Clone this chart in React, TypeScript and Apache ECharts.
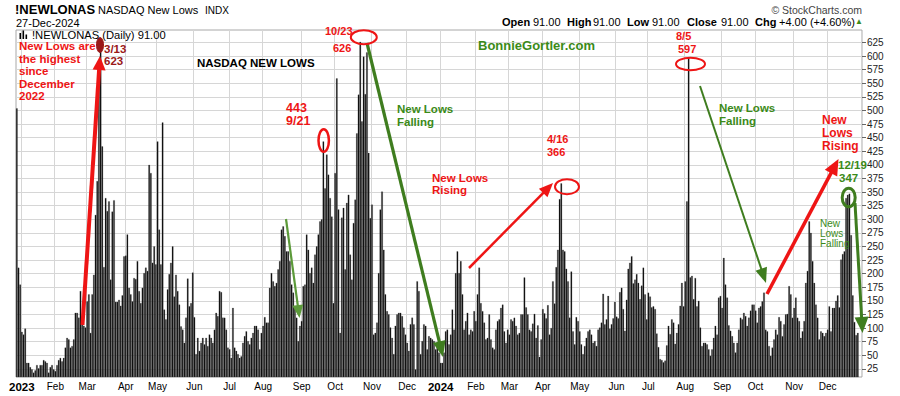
import React, { useEffect, useRef } from 'react';
import * as echarts from 'echarts';

// ---- daily NASDAQ new lows, by month ----
const dec22 = [504, 211, 180];
const jan23 = [93, 88, 99, 36, 36, 28, 24, 18, 22, 32, 26, 32, 32, 41, 39, 36, 18, 28, 32, 24];
const feb23 = [21, 32, 41, 45, 39, 45, 64, 82, 79, 64, 67, 79, 128, 128, 119, 168, 119, 104, 101];
const mar23 = [149, 162, 91, 162, 198, 308, 370, 547, 623, 434, 212, 339, 315, 333, 189, 314, 335, 148, 148, 152, 141, 160, 232];
const apr23 = [233, 272, 174, 162, 149, 192, 190, 223, 168, 146, 174, 201, 211, 205, 400, 385, 220, 250, 217];
const may23 = [443, 281, 217, 478, 134, 116, 171, 199, 220, 250, 158, 198, 168, 143, 103, 97, 73, 119, 191, 140, 146, 202];
const jun23 = [120, 52, 82, 58, 73, 82, 70, 82, 67, 88, 82, 73, 97, 128, 122, 168, 166, 119, 119, 97, 64];
const jul23 = [61, 45, 137, 64, 58, 52, 45, 48, 73, 85, 94, 76, 70, 82, 91, 104, 104, 97, 61, 91];
const aug23 = [104, 120, 110, 110, 174, 201, 186, 177, 183, 208, 223, 281, 287, 269, 241, 241, 223, 180, 165, 138, 119, 76, 104];
const sep23 = [113, 177, 180, 272, 244, 201, 211, 183, 235, 250, 272, 296, 300, 443, 357, 419, 382, 339, 305, 146];
const oct23 = [385, 559, 318, 91, 303, 321, 208, 330, 345, 235, 189, 293, 336, 458, 529, 626, 480, 599, 530, 607, 422, 302];
const nov23 = [327, 88, 91, 110, 201, 318, 351, 244, 162, 131, 125, 101, 82, 52, 104, 125, 128, 128, 122, 101, 88];
const dec23 = [73, 58, 107, 119, 107, 24, 186, 168, 52, 76, 107, 104, 61, 85, 82, 79, 76, 61, 70, 55];
const jan24 = [36, 36, 55, 94, 97, 70, 88, 134, 97, 201, 241, 201, 223, 162, 97, 113, 128, 88, 97, 94, 131];
const feb24 = [113, 162, 211, 146, 131, 110, 79, 82, 125, 79, 64, 61, 97, 113, 116, 137, 143, 94, 73, 97];
const mar24 = [88, 116, 113, 119, 104, 88, 91, 125, 125, 193, 138, 125, 97, 94, 108, 126, 82, 105, 47, 79];
const apr24 = [135, 127, 118, 142, 88, 100, 186, 145, 212, 244, 337, 366, 244, 241, 209, 186, 119, 204, 94, 70, 120, 113];
const may24 = [94, 70, 52, 67, 82, 94, 97, 88, 73, 76, 67, 97, 101, 110, 163, 107, 116, 159, 99, 107, 118, 148];
const jun24 = [121, 118, 166, 174, 135, 95, 152, 209, 220, 232, 182, 189, 199, 183, 153, 178, 211, 162, 116];
const jul24 = [165, 158, 138, 140, 135, 90, 65, 43, 41, 37, 40, 68, 104, 89, 116, 110, 71, 91, 107, 141, 183, 140];
const aug24 = [186, 333, 597, 193, 196, 153, 192, 140, 150, 101, 67, 73, 73, 70, 61, 49, 61, 82, 104, 88, 156, 159];
const sep24 = [137, 229, 180, 156, 105, 95, 85, 73, 55, 73, 97, 119, 116, 128, 122, 104, 119, 132, 143, 143];
const oct24 = [132, 110, 137, 140, 149, 165, 97, 94, 67, 49, 64, 79, 97, 88, 120, 113, 85, 107, 125, 126, 177, 162, 119];
const nov24 = [137, 156, 119, 113, 82, 94, 113, 183, 205, 296, 275, 223, 183, 143, 119, 79, 94, 91, 85, 91];
const dec24 = [97, 140, 94, 137, 137, 150, 160, 138, 226, 236, 241, 339, 345, 347, 271, 160, 111, 87, 91];

const yTicks = [25, 50, 75, 100, 125, 150, 175, 200, 225, 250, 275, 300, 325, 350, 375, 400, 425, 450, 475, 500, 525, 550, 575, 600, 625];
const monthNames = ['Jan', 'Feb', 'Mar', 'Apr', 'May', 'Jun', 'Jul', 'Aug', 'Sep', 'Oct', 'Nov', 'Dec'];
const holidays = ['2023-01-02', '2023-01-16', '2023-02-20', '2023-04-07', '2023-05-29', '2023-06-19', '2023-07-04', '2023-09-04', '2023-11-23', '2023-12-25',
  '2024-01-01', '2024-01-15', '2024-02-19', '2024-03-29', '2024-05-27', '2024-06-19', '2024-07-04', '2024-09-02', '2024-11-28', '2024-12-25'];
const firstDay = '2022-12-28';
const lastDay = '2024-12-27';
const padSlots = 2;

const values: (number | null)[] = [
  ...dec22, ...jan23, ...feb23, ...mar23, ...apr23, ...may23, ...jun23, ...jul23, ...aug23, ...sep23, ...oct23, ...nov23, ...dec23,
  ...jan24, ...feb24, ...mar24, ...apr24, ...may24, ...jun24, ...jul24, ...aug24, ...sep24, ...oct24, ...nov24, ...dec24,
];

function tradingDays(): string[] {
  const out: string[] = [];
  const d = new Date(firstDay + 'T00:00:00Z');
  const end = new Date(lastDay + 'T00:00:00Z');
  while (d <= end) {
    const iso = d.toISOString().slice(0, 10);
    const wd = d.getUTCDay();
    if (wd !== 0 && wd !== 6 && holidays.indexOf(iso) < 0) out.push(iso);
    d.setUTCDate(d.getUTCDate() + 1);
  }
  return out;
}

const FONT = '"Liberation Sans", Arial, sans-serif';
const RED = '#ee1515';
const MAROON = '#9a1818';
const GREEN = '#3b8a18';
const DGREEN = '#3f7d1f';

function arrow(x1: number, y1: number, x2: number, y2: number, color: string, width: number, headLen: number, headHalf: number) {
  const dx = x2 - x1, dy = y2 - y1;
  const len = Math.hypot(dx, dy);
  const ux = dx / len, uy = dy / len;
  const bx = x2 - ux * headLen, by = y2 - uy * headLen;
  const px = -uy, py = ux;
  return [
    { type: 'line', z: 20, shape: { x1, y1, x2: bx + ux * 2, y2: by + uy * 2 }, style: { stroke: color, lineWidth: width } },
    { type: 'polygon', z: 20, shape: { points: [[x2, y2], [bx + px * headHalf, by + py * headHalf], [bx - px * headHalf, by - py * headHalf]] }, style: { fill: color } },
  ];
}

function txt(text: string, x: number, y: number, font: string, fill: string, align = 'left') {
  return { type: 'text', z: 30, x, y, style: { text, font, fill, textAlign: align, textVerticalAlign: 'middle' } };
}

function ell(cx: number, cy: number, rx: number, ry: number, stroke: string, lw: number, fill?: string) {
  return { type: 'ellipse', z: 25, shape: { cx, cy, rx, ry }, style: fill ? { fill, stroke: fill, lineWidth: 1 } : { fill: 'none', stroke, lineWidth: lw } };
}

export default function App() {
  const ref = useRef<HTMLDivElement>(null);
  useEffect(() => {
    if (!ref.current) return;
    const chart = echarts.init(ref.current, undefined, { renderer: 'svg' });
    const days = tradingDays();
    const cats = [...days];
    for (let i = 0; i < padSlots; i++) cats.push('pad' + i);
    const data = [...values];
    for (let i = 0; i < padSlots; i++) data.push(null);

    const labelAt: Record<number, string> = {};
    for (let i = 1; i < days.length; i++) {
      if (days[i].slice(5, 7) !== days[i - 1].slice(5, 7)) {
        const m = parseInt(days[i].slice(5, 7), 10) - 1;
        labelAt[i] = m === 0 ? '{y|' + days[i].slice(0, 4) + '}' : monthNames[m];
      }
    }
    const isStart = (idx: number) => labelAt[idx] !== undefined;

    const bold12 = 'bold 12px ' + FONT;
    const bold11 = 'bold 11px ' + FONT;
    const b115 = 'bold 11.5px ' + FONT;
    const small = '10px ' + FONT;

    const graphics: any[] = [
      // header
      txt('!NEWLONAS', 15, 9.5, 'bold 13px ' + FONT, '#000'),
      txt('NASDAQ New Lows', 98, 10, '11px ' + FONT, '#000'),
      txt('INDX', 205, 10, '10px ' + FONT, '#000'),
      txt('27-Dec-2024', 16, 22.5, '11px ' + FONT, '#000'),
      txt('\u00a9 StockCharts.com', 862, 9.5, '10.5px ' + FONT, '#444', 'right'),
      txt('Open', 502, 22, bold11, '#000'),
      txt('91.00', 533, 22, '11px ' + FONT, '#000'),
      txt('High', 567, 22, bold11, '#000'),
      txt('91.00', 593, 22, '11px ' + FONT, '#000'),
      txt('Low', 627, 22, bold11, '#000'),
      txt('91.00', 652, 22, '11px ' + FONT, '#000'),
      txt('Close', 687, 22, bold11, '#000'),
      txt('91.00', 721, 22, '11px ' + FONT, '#000'),
      txt('Chg', 755, 22, bold11, '#000'),
      txt('+4.00 (+4.60%)', 779, 22, '11px ' + FONT, '#000'),
      txt('\u25b2', 855, 21.5, '8px ' + FONT, GREEN),
      // legend inside plot
      { type: 'rect', z: 30, shape: { x: 19.5, y: 33, width: 1.6, height: 6 }, style: { fill: '#000' } },
      { type: 'rect', z: 30, shape: { x: 22.5, y: 30.5, width: 1.6, height: 8.5 }, style: { fill: '#000' } },
      { type: 'rect', z: 30, shape: { x: 25.5, y: 34.5, width: 1.6, height: 4.5 }, style: { fill: '#000' } },
      txt('!NEWLONAS (Daily) 91.00', 32, 34.5, '11.2px ' + FONT, '#000'),
      // annotations
      txt('New Lows are', 19, 46, b115, RED),
      txt('the highest', 19, 58.5, b115, RED),
      txt('since', 19, 71, b115, RED),
      txt('December', 19, 83.5, b115, RED),
      txt('2022', 19, 96, b115, RED),
      ...arrow(82.5, 325, 100, 56, RED, 4, 14, 6.5),
      ell(100, 45, 3.5, 7.5, MAROON, 1, MAROON),
      txt('3/13', 104, 49, b115, MAROON),
      txt('623', 104, 61, b115, MAROON),
      txt('NASDAQ NEW LOWS', 197, 63, b115, '#000'),
      txt('443', 286, 108, 'bold 12.5px ' + FONT, RED),
      txt('9/21', 286, 121, 'bold 12.5px ' + FONT, RED),
      ell(323.7, 140.5, 5.2, 11.3, RED, 2.5),
      ...arrow(286, 219, 299.5, 318, '#5c9a3a', 2.2, 13, 5.5),
      txt('10/23', 325, 31, bold11, RED),
      txt('626', 333, 48, bold11, RED),
      ell(363.8, 37.2, 13, 7, RED, 2),
      ...arrow(367, 43, 443, 357, DGREEN, 3.2, 16, 6.5),
      txt('New Lows', 397, 109, b115, GREEN),
      txt('Falling', 397, 122, b115, GREEN),
      txt('BonnieGortler.com', 478, 45, 'bold 13px ' + FONT, GREEN),
      txt('New Lows', 432, 177.5, b115, RED),
      txt('Rising', 432, 190, b115, RED),
      ...arrow(469, 268, 553, 183, RED, 2.5, 14, 6),
      txt('4/16', 547, 139, bold11, RED),
      txt('366', 547, 152, bold11, RED),
      ell(567, 186.7, 12, 7.5, RED, 2),
      txt('8/5', 676, 36, bold11, RED),
      txt('597', 678, 49, bold11, RED),
      ell(690.5, 64, 14.5, 6.2, RED, 2),
      ...arrow(700, 86, 766, 283, DGREEN, 2, 15, 6),
      txt('New Lows', 719, 107.5, b115, GREEN),
      txt('Falling', 719, 121, b115, GREEN),
      txt('New', 822, 120, bold12, RED),
      txt('Lows', 822, 133, bold12, RED),
      txt('Rising', 822, 145.5, bold12, RED),
      ...arrow(767, 294, 838.5, 159, RED, 3.5, 16, 7),
      txt('12/19', 838, 165, b115, GREEN),
      txt('347', 839, 178, b115, GREEN),
      ell(848.7, 197.5, 6.5, 9.3, DGREEN, 3),
      txt('New', 820, 223.5, small, GREEN),
      txt('Lows', 820, 233.5, small, GREEN),
      txt('Falling', 820, 243.5, small, GREEN),
      ...arrow(855, 203, 862.5, 333, DGREEN, 3, 16, 7),
    ];

    chart.setOption({
      animation: false,
      backgroundColor: '#fff',
      grid: { left: 16, right: 38, top: 30, bottom: 19, show: true, borderColor: '#a8a8a8', borderWidth: 1, backgroundColor: 'transparent' },
      xAxis: {
        type: 'category',
        data: cats,
        boundaryGap: true,
        axisLine: { show: false },
        axisTick: { show: false },
        axisLabel: {
          interval: (idx: number) => isStart(idx),
          formatter: (_v: string, idx: number) => labelAt[idx] || '',
          fontSize: 10,
          fontFamily: FONT,
          color: '#000',
          margin: 4,
          rich: { y: { fontSize: 11.5, fontWeight: 'bold', fontFamily: FONT, color: '#000' } },
        },
        splitLine: { show: true, interval: (idx: number) => isStart(idx), lineStyle: { color: '#d6d6d6', width: 1 } },
      },
      yAxis: {
        type: 'value',
        position: 'right',
        min: 10,
        max: 648,
        axisLine: { show: false },
        axisTick: { show: true, length: 4, lineStyle: { color: '#666' }, customValues: yTicks },
        axisLabel: { customValues: yTicks, fontSize: 10, fontFamily: FONT, color: '#222', margin: 5 },
        splitLine: { show: true, lineStyle: { color: '#d6d6d6', width: 1 } },
      },
      series: [
        {
          type: 'bar',
          data,
          barCategoryGap: '8%',
          itemStyle: { color: '#000', borderColor: '#5a5a5a', borderWidth: 0.3 },
          silent: true,
        },
      ],
      graphic: { elements: graphics },
    });
    return () => chart.dispose();
  }, []);
  return <div ref={ref} style={{ position: 'absolute', left: 0, top: 0, width: 900, height: 396, background: '#fff' }} />;
}
